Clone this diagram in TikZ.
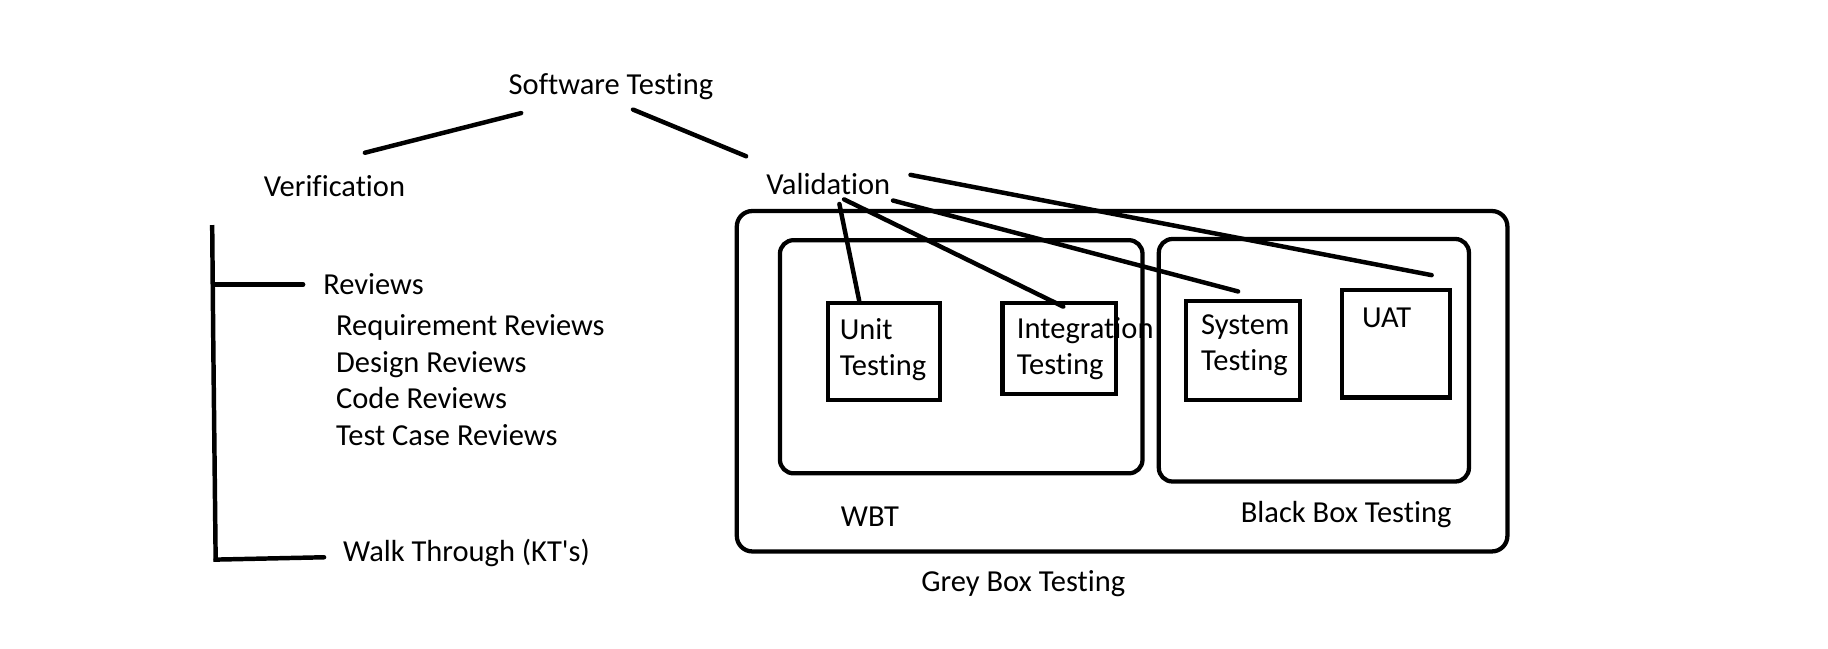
\documentclass[tikz,border=0pt]{standalone}
\usepackage{fontspec}
\setmainfont{Carlito}[Ligatures={NoCommon,NoContextual},Contextuals={NoAlternate}]
\begin{document}
\begin{tikzpicture}[x=0.6pt,y=-0.6pt,
  lbl/.style={anchor=west,inner sep=0pt,font=\fontsize{15.7}{18.8}\selectfont,align=left},
  ln/.style={line width=2.3pt,line cap=round},
  rbox/.style={draw,line width=2.2pt,rounded corners=8pt,inner sep=0pt},
  sbox/.style={draw,line width=2.2pt,inner sep=0pt}]
\fill[white] (0,0) rectangle (1568,556);
\useasboundingbox (0,0) rectangle (1568,556);
% titles
\node[lbl] (st) at (436,74) {Software Testing};
\node[lbl] (ver) at (226,160) {Veri\kern0pt fication};
\node[lbl] (val) at (657,158) {Validat\kern0pt ion};
% verification items
\node[lbl] (rev) at (277,244) {Reviews};
\node[lbl] (revlist) at (288,326) {Requirement Reviews\\Design Reviews\\Code Reviews\\Test Case Reviews};
\node[lbl] (walk) at (294,474) {Walk Through (KT\textquotesingle s)};
% boxes
\node[rbox,minimum width=396.6pt,minimum height=175.2pt] (grey) at (962.5,327) {};
\node[rbox,rounded corners=7pt,minimum width=186.6pt,minimum height=120pt] (wbt) at (824.5,306) {};
\node[rbox,rounded corners=7pt,minimum width=159.6pt,minimum height=124.8pt] (bbt) at (1127,309) {};
\node[sbox,minimum width=57.6pt,minimum height=49.8pt] (unit) at (758,301.5) {};
\node[sbox,minimum width=58.2pt,minimum height=46.8pt] (integ) at (908.5,299) {};
\node[sbox,minimum width=58.8pt,minimum height=51pt] (sys) at (1066,300.5) {};
\node[sbox,minimum width=55.8pt,minimum height=55.2pt] (uat) at (1197.5,295) {};
% box texts
\node[lbl] (unitt) at (720,300) {Unit\\Testing};
\node[lbl] (integt) at (872,299) {Integrat\kern0pt ion\\Testing};
\node[lbl] (syst) at (1030,296) {System\\Testing};
\node[lbl] (uatt) at (1168,273) {UAT};
\node[lbl] (wbtt) at (721,443) {WBT};
\node[lbl] (bbtt) at (1064,441) {Black Box Testing};
\node[lbl] (greyt) at (790,501) {Grey Box Testing};
% connector end points
\coordinate (stL) at (447,97);
\coordinate (verT) at (313,131);
\coordinate (stR) at (543,94);
\coordinate (valT) at (640,134);
\coordinate (v1) at (720,175);
\coordinate (u1) at (737,258);
\coordinate (v2) at (724,171);
\coordinate (i2) at (912,263);
\coordinate (v3) at (766,172);
\coordinate (s3) at (1062,250);
\coordinate (v4) at (781,150);
\coordinate (a4) at (1228,236);
\draw[ln] (stL) -- (verT);
\draw[ln] (stR) -- (valT);
\draw[ln] (v1) -- (u1);
\draw[ln] (v2) -- (i2);
\draw[ln] (v3) -- (s3);
\draw[ln] (v4) -- (a4);
% bracket
\coordinate (bt) at (182,193);
\coordinate (bm) at (183,300);
\coordinate (bb) at (185,482);
\coordinate (r1) at (260,244);
\coordinate (r0) at (183,244);
\coordinate (w0) at (185,480);
\coordinate (w1) at (278,478);
\draw[ln,line cap=butt] (bt) -- (bm) -- (bb);
\draw[ln] (r0) -- (r1);
\draw[ln] (w0) -- (w1);
\end{tikzpicture}
\end{document}
